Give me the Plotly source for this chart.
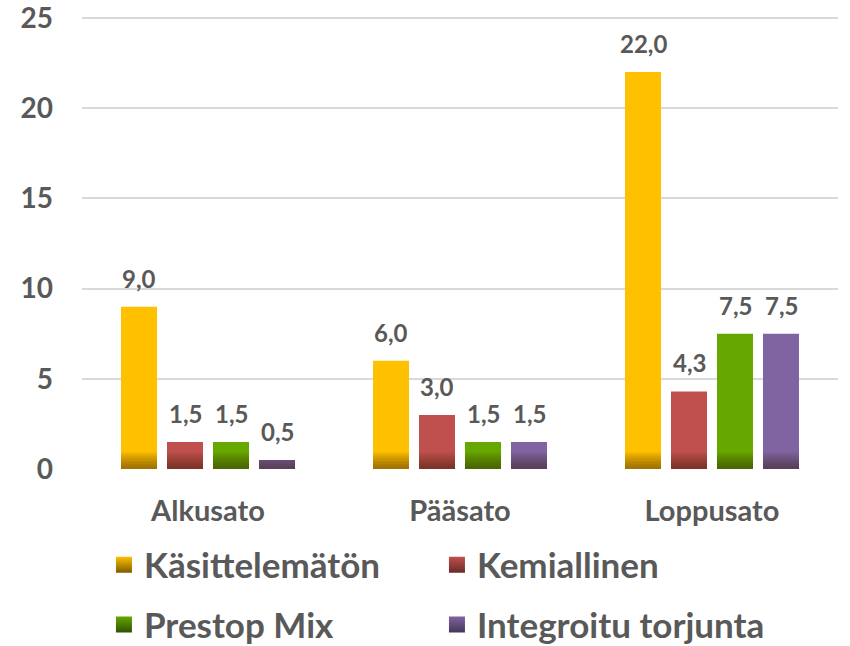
import plotly.graph_objects as go

categories = ["Alkusato", "Pääsato", "Loppusato"]
series_names = ["Käsittelemätön", "Kemiallinen", "Prestop Mix", "Integroitu torjunta"]
kasittelematon = [9.0, 6.0, 22.0]
kemiallinen = [1.5, 3.0, 4.3]
prestop_mix = [1.5, 1.5, 7.5]
integroitu = [0.5, 1.5, 7.5]
y_ticks = [0, 5, 10, 15, 20, 25]

series_values = [kasittelematon, kemiallinen, prestop_mix, integroitu]
colors = ["#FFC000", "#C0504D", "#66A700", "#8064A2"]
dark_colors = ["#7A5C00", "#6B2A28", "#2F5200", "#45365A"]
legend_ids = ["legend", "legend", "legend2", "legend2"]

FONT = "Lato"
TEXT = "#595959"

fig = go.Figure()
x_pos = list(range(len(categories)))

for i, (name, vals, col) in enumerate(zip(series_names, series_values, colors)):
    fig.add_trace(go.Bar(
        x=x_pos, y=vals, name=name, offsetgroup=str(i),
        marker=dict(color=col, line=dict(width=0)),
        showlegend=False,
    ))
    # darker band at the foot of each bar (stacked translucent layers)
    for k in range(1, 7):
        depth = 0.15 * k
        fig.add_trace(go.Bar(
            x=x_pos, y=[min(v, depth) for v in vals], offsetgroup=str(i),
            marker=dict(color="rgba(40,25,0,0.09)", line=dict(width=0)),
            showlegend=False, hoverinfo="skip",
        ))

# legend entries: square swatches with a vertical shading
for i, (name, col, dcol) in enumerate(zip(series_names, colors, dark_colors)):
    fig.add_trace(go.Scatter(
        x=[None], y=[None], mode="markers", name=name,
        marker=dict(symbol="square", size=20, color=col,
                    gradient=dict(type="vertical", color=dcol),
                    line=dict(width=0)),
        legend=legend_ids[i],
    ))

# value labels above the bars
slot_px = 46
for i, vals in enumerate(series_values):
    for xi, v in zip(x_pos, vals):
        fig.add_annotation(
            x=xi, y=v, text=f"{v:.1f}".replace(".", ","),
            xshift=(i - 1.5) * slot_px, yshift=12, yanchor="bottom",
            showarrow=False, font=dict(family=FONT, size=24, color=TEXT, weight="bold"),
        )

legend_common = dict(
    orientation="h", xref="container", yref="container",
    x=0.1223, xanchor="left", yanchor="middle",
    entrywidth=288, entrywidthmode="pixels", itemsizing="trace",
    font=dict(family=FONT, size=35, color=TEXT, weight="bold"),
    bgcolor="rgba(0,0,0,0)",
)

fig.update_layout(
    width=850, height=646,
    margin=dict(l=82, r=12, t=16, b=177),
    paper_bgcolor="white", plot_bgcolor="white",
    barmode="group", bargap=0.27, bargroupgap=0.217,
    font=dict(family=FONT, color=TEXT),
    showlegend=True,
    legend=dict(y=0.1254, **legend_common),
    legend2=dict(y=0.033, **legend_common),
)

fig.update_xaxes(
    range=[-0.5, 2.5], tickvals=x_pos, ticktext=categories,
    showgrid=False, zeroline=False, showline=False, ticks="",
    ticklabelstandoff=22, automargin=False,
    tickfont=dict(family=FONT, size=29, color=TEXT, weight="bold"),
)
fig.update_yaxes(
    range=[0, 25.111], tickvals=y_ticks, showgrid=True, gridcolor="#D9D9D9", gridwidth=2,
    zeroline=False, showline=False, ticks="", ticklabelstandoff=28, automargin=False,
    ticklabeloverflow="allow",
    tickfont=dict(family=FONT, size=28, color=TEXT, weight="bold"),
)

fig.write_html("out.html")
